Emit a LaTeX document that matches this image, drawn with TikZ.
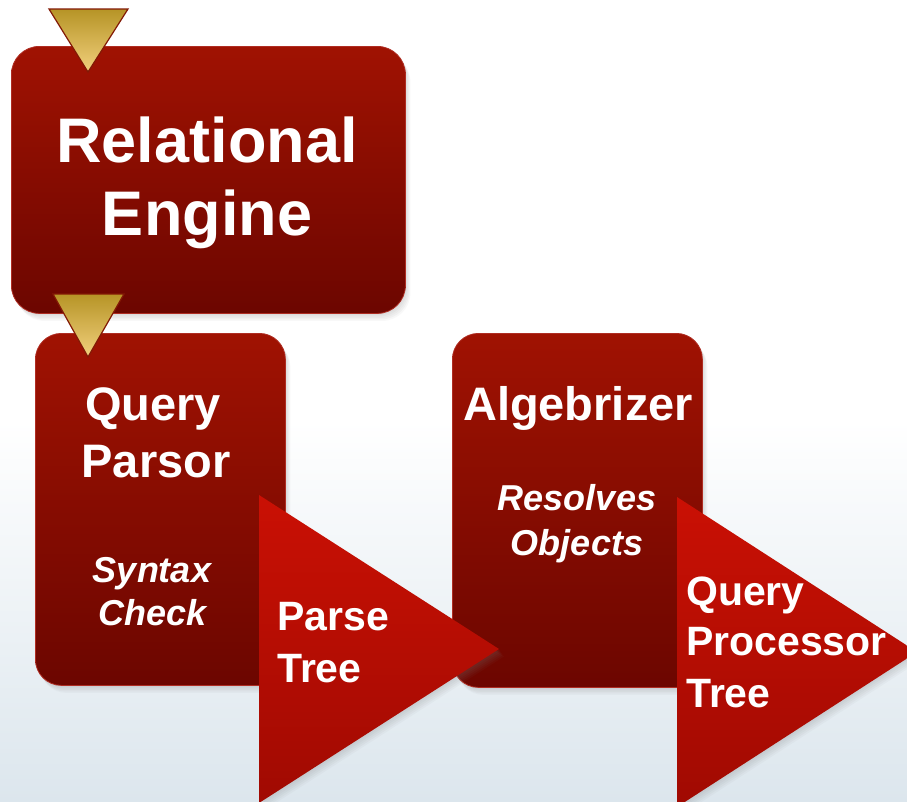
\documentclass[tikz,border=0pt]{standalone}
\usepackage{fontspec}
\setmainfont{Liberation Sans}
\usetikzlibrary{shadows}
\definecolor{boxtop}{RGB}{160,18,2}
\definecolor{boxbot}{RGB}{108,6,0}
\definecolor{boxedge}{RGB}{175,45,35}
\definecolor{tritop}{RGB}{202,16,4}
\definecolor{tribot}{RGB}{160,10,2}
\definecolor{goldtop}{RGB}{182,148,38}
\definecolor{goldbot}{RGB}{242,208,125}
\definecolor{goldedge}{RGB}{130,25,5}
\definecolor{bgbot}{RGB}{220,230,237}
\tikzset{
  softshadow/.style={
    drop shadow={opacity=0.06, shadow xshift=1pt, shadow yshift=-1.5pt},
    drop shadow={opacity=0.06, shadow xshift=2pt, shadow yshift=-3pt},
    drop shadow={opacity=0.06, shadow xshift=3pt, shadow yshift=-4.5pt},
    drop shadow={opacity=0.06, shadow xshift=4pt, shadow yshift=-6pt},
    drop shadow={opacity=0.05, shadow xshift=5pt, shadow yshift=-7.5pt}},
  box/.style={rectangle, rounded corners=28pt, anchor=north west, inner sep=0pt,
    top color=boxtop, bottom color=boxbot, draw=boxedge, line width=0.8pt, softshadow},
  redtri/.style={top color=tritop, bottom color=tribot, softshadow},
  goldtri/.style={top color=goldtop, bottom color=goldbot, draw=goldedge, line width=1.2pt, line join=miter},
  lbl/.style={anchor=base, inner sep=0pt, text=white},
  big/.style={font=\fontsize{63}{63}\selectfont\bfseries},
  mid/.style={font=\fontsize{47}{47}\selectfont\bfseries},
  tri/.style={font=\fontsize{41}{41}\selectfont\bfseries},
  small/.style={font=\fontsize{36}{36}\selectfont\bfseries\itshape},
}
% \tl{name}{style}{x}{y}{anchor}{text}
\newcommand{\tl}[6]{\node[lbl,#2,anchor=#5] (#1) at (#3,#4) {#6};}
\begin{document}
\begin{tikzpicture}[x=1pt,y=-1pt]
\useasboundingbox (0,0) rectangle (907,801);
% background
\fill[white] (0,0) rectangle (907,801);
\fill[top color=white, bottom color=bgbot] (0,420) rectangle (907,801.5);

% Relational Engine box
\node[box, minimum width=394pt, minimum height=267pt] (re) at (11,46) {};
\tl{re1}{big}{207}{162}{base}{Relational}
\tl{re2}{big}{207}{235}{base}{Engine}

% Query Parsor box
\node[box, rounded corners=26pt, minimum width=250pt, minimum height=352pt] (qp) at (35,333) {};
\tl{qp1}{mid}{153}{420}{base}{Query}
\tl{qp2}{mid}{156}{477}{base}{Parsor}
\tl{qp3}{small}{152}{582}{base}{Syntax}
\tl{qp4}{small}{153}{625}{base}{Check}

% Algebrizer box
\node[box, rounded corners=26pt, minimum width=250pt, minimum height=354pt] (al) at (452,333) {};
\tl{al1}{mid}{578}{420}{base}{Algebrizer}
\tl{al2}{small}{577}{510}{base}{Resolves}
\tl{al3}{small}{577}{555}{base}{Objects}

% gold triangles
\coordinate (g1a) at (49,9); \coordinate (g1b) at (128,9); \coordinate (g1c) at (88,72);
\path[goldtri] (g1a) -- (g1b) -- (g1c) -- cycle;
\coordinate (g2a) at (53,294); \coordinate (g2b) at (124,294); \coordinate (g2c) at (88,357);
\path[goldtri] (g2a) -- (g2b) -- (g2c) -- cycle;

% Parse Tree triangle
\coordinate (pt1) at (259,495); \coordinate (pt2) at (499,649); \coordinate (pt3) at (259,803);
\path[redtri] (pt1) -- (pt2) -- (pt3) -- cycle;
\tl{pt-a}{tri}{277}{630}{base west}{Parse}
\tl{pt-b}{tri}{277}{682}{base west}{Tree}

% Query Processor Tree triangle
\coordinate (qt1) at (677,497); \coordinate (qt2) at (917,652); \coordinate (qt3) at (677,807);
\path[redtri] (qt1) -- (qt2) -- (qt3) -- cycle;
\tl{qt-a}{tri}{686}{605}{base west}{Query}
\tl{qt-b}{tri}{686}{655}{base west}{Processor}
\tl{qt-c}{tri}{686}{707}{base west}{Tree}
\end{tikzpicture}
\end{document}
